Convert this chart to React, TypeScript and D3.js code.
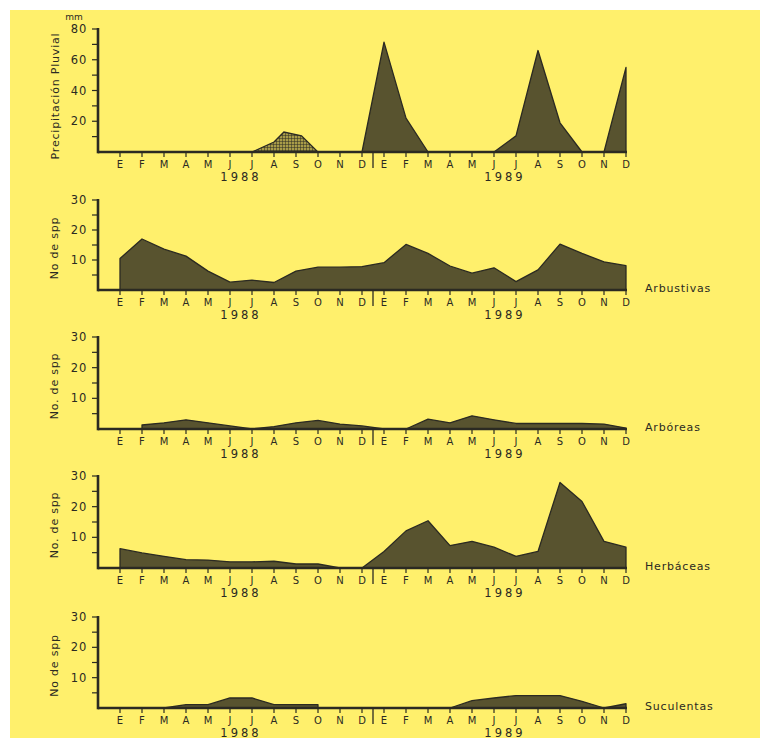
import React from "react";
import * as d3 from "d3";

// ---------- data ----------
const monthLabels = ["E", "F", "M", "A", "M", "J", "J", "A", "S", "O", "N", "D"];
const years = ["1988", "1989"];

// precipitation (mm): [month index 0..23, value]
const precip1988: [number, number][] = [[6, 0], [7, 6.5], [7.45, 13], [8.25, 10.5], [9, 0]];
const precip1989: [number, number][] = [
  [11, 0], [12, 71.5], [13, 22], [14, 0], [17, 0], [18, 10.5], [19, 66], [20, 19], [21, 0], [22, 0], [23, 55],
];

// number of species per month (null = no record)
const arbustivas: (number | null)[] = [
  10.5, 17, 13.6, 11.3, 6.3, 2.6, 3.3, 2.5, 6.3, 7.6, 7.6, 7.8,
  9.1, 15.2, 12.2, 8, 5.6, 7.4, 2.8, 6.7, 15.3, 12.2, 9.4, 8.1,
];
const arboreas: (number | null)[] = [
  null, 1.3, 2, 3, 2, 1, 0, 0.8, 2, 2.8, 1.6, 1,
  0, 0, 3.2, 2, 4.3, 3, 1.8, 1.8, 1.8, 1.8, 1.6, 0.3,
];
const herbaceas: (number | null)[] = [
  6.3, 4.9, 3.8, 2.7, 2.6, 2, 2, 2.2, 1.3, 1.3, 0, 0,
  5.4, 12.1, 15.4, 7.3, 8.7, 6.8, 3.8, 5.4, 27.9, 21.7, 8.7, 6.8,
];
const suculentas: (number | null)[] = [
  null, null, 0, 1.1, 1.1, 3.3, 3.3, 1.1, 1.1, 1.1, null, null,
  null, null, null, 0, 2.4, 3.3, 4.1, 4.1, 4.1, 2.2, 0, 1.4,
];

const precipTicks = [20, 40, 60, 80];
const sppTicks = [10, 20, 30];

// ---------- layout ----------
const W = 770;
const H = 740;
const AXIS_X = 98;
const FONT = "'DejaVu Sans', Verdana, sans-serif";
const INK = "#2b2a22";
const FILL = "#58532f";
const BG = "#fff06c";

const x = d3.scaleLinear().domain([0, 23]).range([120, 626]);

type PanelCfg = {
  base: number;
  top: number;
  max: number;
  ticks: number[];
  minor: number;
  title: string;
  label?: string;
  series?: (number | null)[];
};

const panels: PanelCfg[] = [
  { base: 152, top: 29, max: 80, ticks: precipTicks, minor: 10, title: "Precipitación  Pluvial" },
  { base: 290, top: 200, max: 30, ticks: sppTicks, minor: 5, title: "No de spp", label: "Arbustivas", series: arbustivas },
  { base: 429, top: 337, max: 30, ticks: sppTicks, minor: 5, title: "No. de spp", label: "Arbóreas", series: arboreas },
  { base: 568, top: 476, max: 30, ticks: sppTicks, minor: 5, title: "No. de spp", label: "Herbáceas", series: herbaceas },
  { base: 708, top: 617, max: 30, ticks: sppTicks, minor: 5, title: "No de spp", label: "Suculentas", series: suculentas },
];

function Panel({ cfg, idx }: { cfg: PanelCfg; idx: number }) {
  const y = d3.scaleLinear().domain([0, cfg.max]).range([cfg.base, cfg.top]);
  const minorTicks = d3.range(cfg.minor, cfg.max + 0.001, cfg.minor);
  const allMonths = d3.range(24);

  let areas: React.ReactNode = null;
  if (cfg.series) {
    const area = d3
      .area<number | null>()
      .defined((d) => d !== null)
      .x((_, i) => x(i))
      .y0(cfg.base)
      .y1((d) => y(d as number));
    areas = (
      <path d={area(cfg.series) || ""} fill={FILL} stroke={INK} strokeWidth={1.3} strokeLinejoin="round" />
    );
  } else {
    const pa = d3
      .area<[number, number]>()
      .x((d) => x(d[0]))
      .y0(cfg.base)
      .y1((d) => y(d[1]));
    areas = (
      <g>
        <path d={pa(precip1988) || ""} fill="url(#hatch)" stroke={INK} strokeWidth={1.3} />
        <path d={pa(precip1989) || ""} fill={FILL} stroke={INK} strokeWidth={1.3} strokeLinejoin="round" />
      </g>
    );
  }

  const midY = (cfg.base + cfg.top) / 2 + 3;

  return (
    <g>
      {areas}
      {/* baseline */}
      <line x1={AXIS_X} x2={x(23) + 1} y1={cfg.base} y2={cfg.base} stroke={INK} strokeWidth={2.6} />
      {/* y axis */}
      <line x1={AXIS_X} x2={AXIS_X} y1={cfg.top - 1} y2={cfg.base + 1.3} stroke={INK} strokeWidth={2.6} />
      {minorTicks.map((t) => (
        <line key={t} x1={AXIS_X - 6} x2={AXIS_X} y1={y(t)} y2={y(t)} stroke={INK} strokeWidth={1.2} />
      ))}
      {cfg.ticks.map((t) => (
        <text
          key={"l" + t}
          x={AXIS_X - 11}
          y={y(t)}
          textAnchor="end"
          dominantBaseline="central"
          fontFamily={FONT}
          fontSize={11.5}
          letterSpacing={0.8}
          fill={INK}
        >
          {t}
        </text>
      ))}
      {idx === 0 && (
        <text x={74} y={17} textAnchor="middle" dominantBaseline="central" fontFamily={FONT} fontSize={9} fill={INK}>
          mm
        </text>
      )}
      <text
        transform={`translate(${idx === 0 ? 55 : 54},${idx === 0 ? 96 : midY}) rotate(-90)`}
        textAnchor="middle"
        dominantBaseline="central"
        fontFamily={FONT}
        fontSize={11}
        letterSpacing={0.8}
        fill={INK}
      >
        {cfg.title}
      </text>
      {/* month ticks */}
      {allMonths.map((m) => (
        <line key={"t" + m} x1={x(m)} x2={x(m)} y1={cfg.base} y2={cfg.base + 5} stroke={INK} strokeWidth={1.2} />
      ))}
      <line x1={x(11.5)} x2={x(11.5)} y1={cfg.base} y2={cfg.base + 16} stroke={INK} strokeWidth={1.3} />
      {allMonths.map((m) => (
        <text
          key={"m" + m}
          x={x(m)}
          y={cfg.base + 12.5}
          textAnchor="middle"
          dominantBaseline="central"
          fontFamily={FONT}
          fontSize={10}
          fill={INK}
        >
          {monthLabels[m % 12]}
        </text>
      ))}
      {years.map((yr, i) => (
        <text
          key={yr}
          x={x(i * 12 + 5.5)}
          y={cfg.base + 25}
          textAnchor="middle"
          dominantBaseline="central"
          fontFamily={FONT}
          fontSize={11.5}
          letterSpacing={3}
          fill={INK}
        >
          {yr}
        </text>
      ))}
      {cfg.label && (
        <text
          x={645}
          y={cfg.base - 2}
          dominantBaseline="central"
          fontFamily={FONT}
          fontSize={11}
          letterSpacing={0.8}
          fill={INK}
        >
          {cfg.label}
        </text>
      )}
    </g>
  );
}

export default function App() {
  return (
    <svg
      width={W}
      height={H}
      viewBox={`0 0 ${W} ${H}`}
      style={{ position: "absolute", left: 0, top: 0, background: "#ffffff" }}
    >
      <defs>
        <pattern id="hatch" width="3" height="3" patternUnits="userSpaceOnUse">
          <rect width="3" height="3" fill="#a89c48" />
          <path d="M0 0 H3 M0 0 V3" stroke="#2b2a22" strokeWidth={1} />
        </pattern>
      </defs>
      <rect x={10} y={10} width={750} height={728} fill={BG} />
      {panels.map((p, i) => (
        <Panel key={i} cfg={p} idx={i} />
      ))}
    </svg>
  );
}
